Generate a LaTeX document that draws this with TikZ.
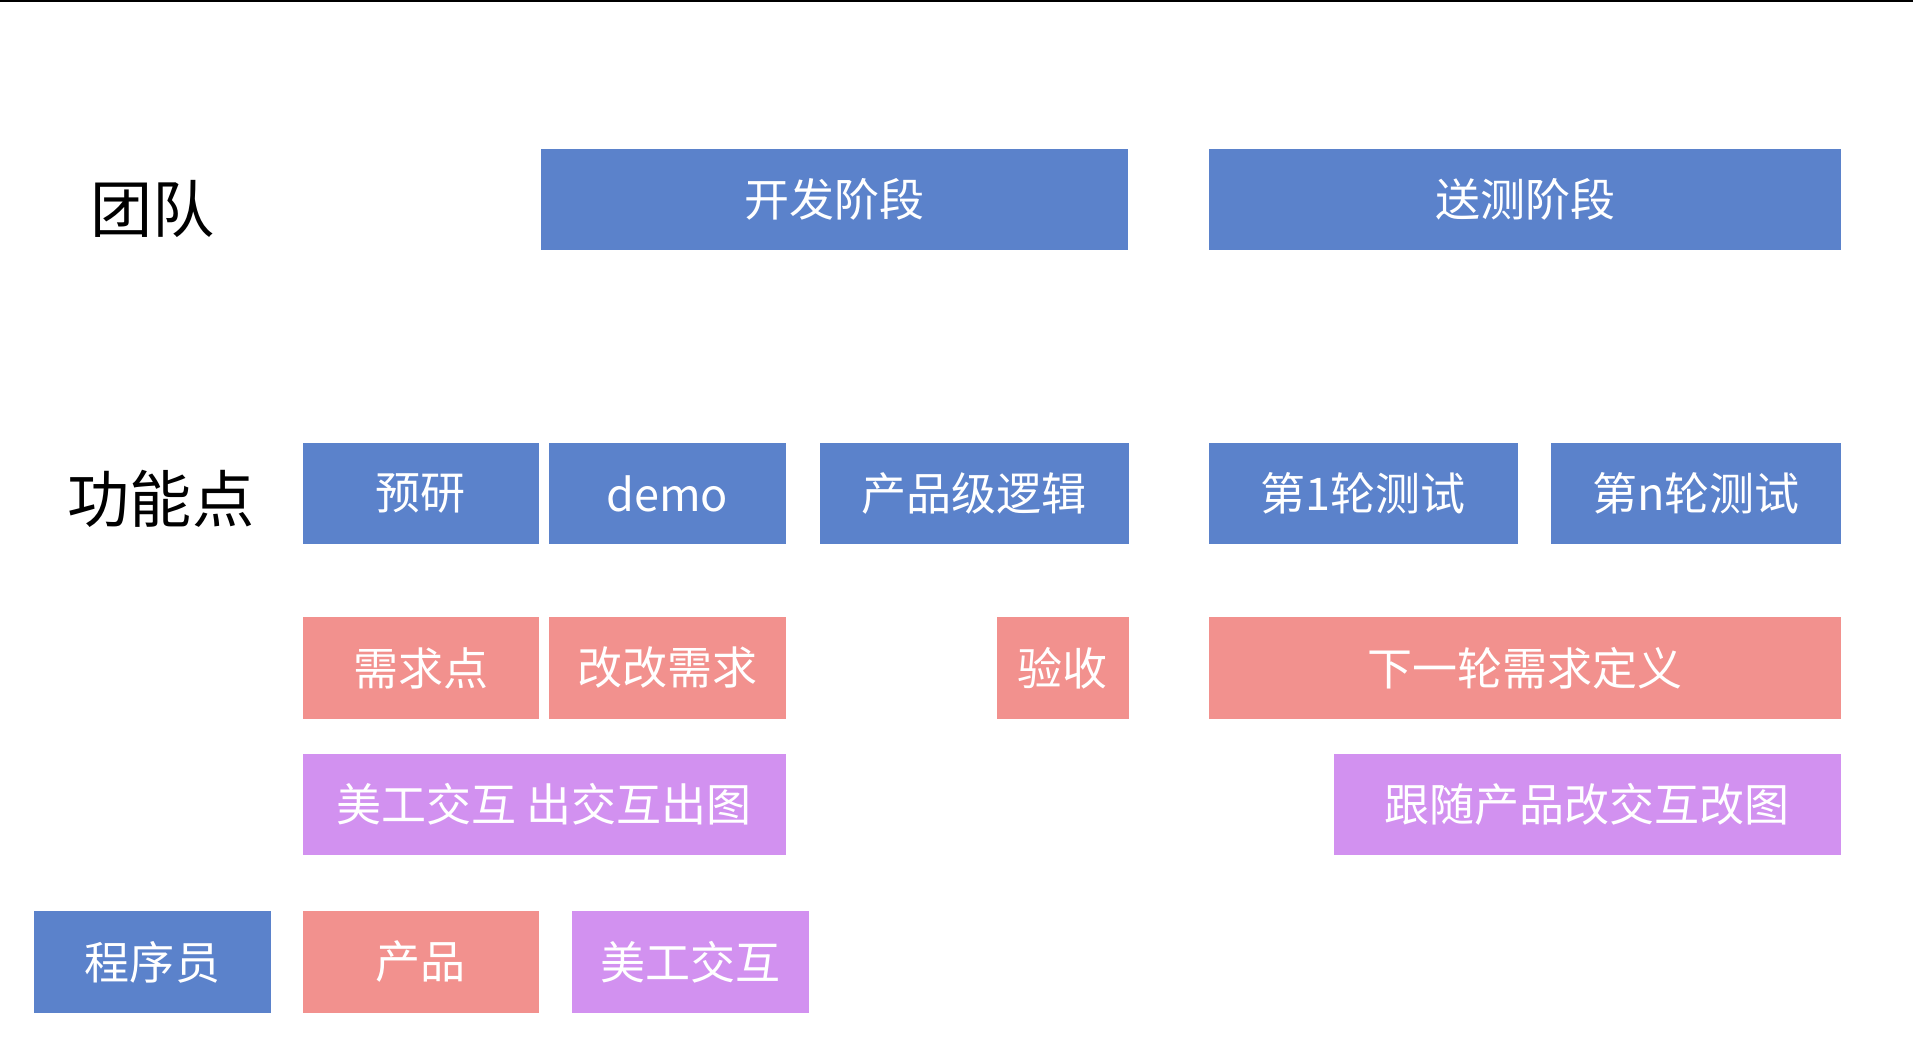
\documentclass[tikz,border=0pt]{standalone}
\usepackage{fontspec}
\setmainfont{Noto Sans CJK SC}
\definecolor{bluebox}{RGB}{91,130,203}
\definecolor{redbox}{RGB}{242,145,142}
\definecolor{purplebox}{RGB}{210,145,240}
\begin{document}
\begin{tikzpicture}[x=0.02cm,y=-0.02cm,
        box/.style={minimum height=1.66cm, inner sep=0pt, text=white, font=\fontsize{21}{25}\selectfont},
        dev/.style={box, fill=bluebox},
        prod/.style={box, fill=redbox},
        art/.style={box, fill=purplebox},
        title/.style={font=\fontsize{29}{34}\selectfont}]
        \useasboundingbox (0,0) rectangle (1568,859);
        \draw[line width=0.04cm] (0,1) -- (1568,1);

        \node[title] (team) at (125,171) {团队};
        \node[title] (feature) at (132,409) {功能点};

        \node[dev, minimum width=9.64cm]  (develop) at (684,163.5)  {开发阶段};
        \node[dev, minimum width=10.36cm] (testing) at (1250,163.5) {送测阶段};

        \node[dev, minimum width=3.88cm] (research) at (345,404.5)   {预研};
        \node[dev, minimum width=3.88cm] (demo)     at (547,404.5)   {demo};
        \node[dev, minimum width=5.06cm] (logic)    at (798.5,404.5) {产品级逻辑};
        \node[dev, minimum width=5.06cm] (test1)    at (1117.5,404.5){第1轮测试};
        \node[dev, minimum width=4.76cm] (testn)    at (1390,404.5)  {第n轮测试};

        \node[prod, minimum width=3.88cm]  (needs)   at (345,547.5)  {需求点};
        \node[prod, minimum width=3.88cm]  (change)  at (547,547.5)  {改改需求};
        \node[prod, minimum width=2.16cm]  (accept)  at (871,547.5)  {验收};
        \node[prod, minimum width=10.36cm] (nextdef) at (1250,547.5) {下一轮需求定义};

        \node[art, minimum width=7.92cm] (draw)   at (446,659.5)  {美工交互 出交互出图};
        \node[art, minimum width=8.32cm] (redraw) at (1301,659.5) {跟随产品改交互改图};

        \node[dev, minimum width=3.88cm]  (coder)    at (125,788.5) {程序员};
        \node[prod, minimum width=3.88cm] (product)  at (345,788.5) {产品};
        \node[art, minimum width=3.88cm]  (designer) at (566,788.5) {美工交互};
    \end{tikzpicture}
\end{document}
